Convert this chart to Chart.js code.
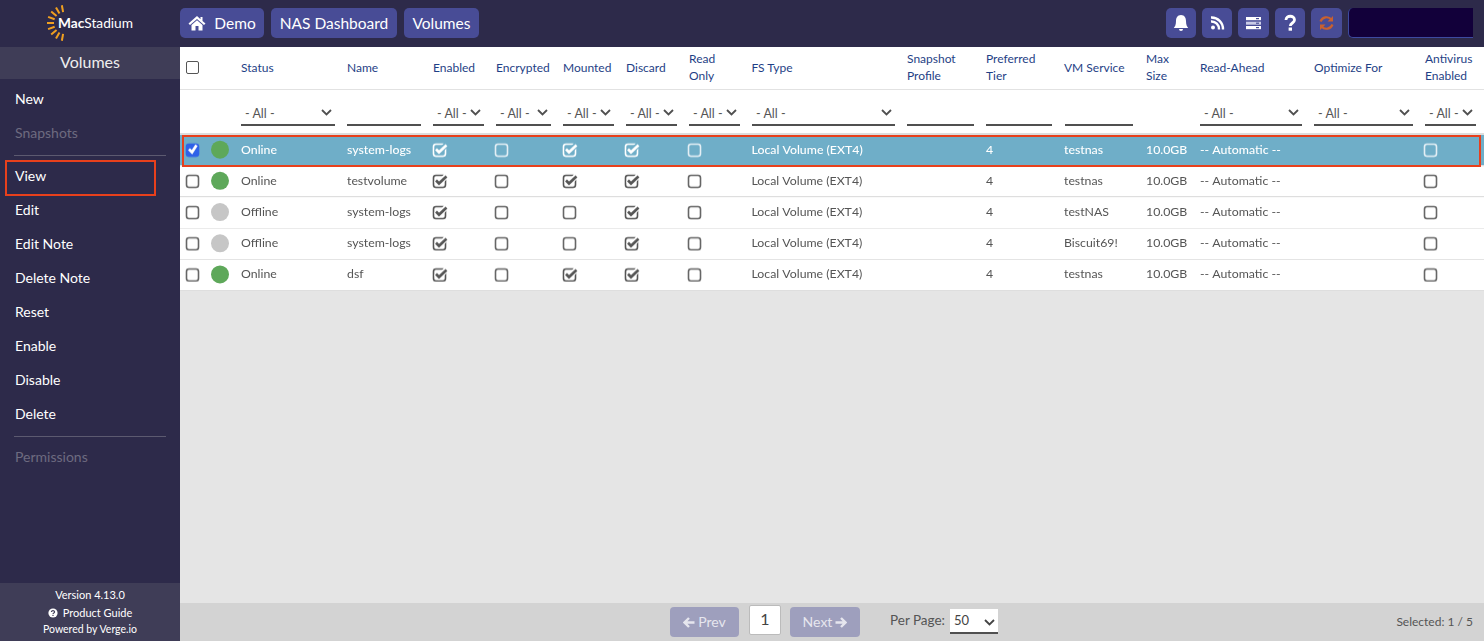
<!DOCTYPE html>
<html>
<head>
<meta charset="utf-8">
<title>Volumes</title>
<script src="https://cdn.jsdelivr.net/npm/chart.js@4"></script>
<style>
html, body { margin: 0; padding: 0; width: 1484px; height: 641px; overflow: hidden; background: #e5e5e5; font-family: 'Lato', sans-serif; color: #555; }
.abs, .side, .btn, .ibtn, .head, .filter { position: absolute; white-space: nowrap; }
#topbar { left: 0; top: 0; width: 1484px; height: 47px; background: #2d2a4a; }
#sidebar { left: 0; top: 47px; width: 180px; height: 594px; background: #2d2a4a; }
#sidetitle { left: 0; top: 47px; width: 180px; height: 32px; line-height: 30px; background: #3f3d57; color: #eee; text-align: center; font-size: 16px; }
#sidefoot { left: 0; top: 583px; width: 180px; height: 58px; background: #3f3d57; }
.side { left: 15px; color: #fff; font-size: 14px; line-height: 18px; }
.side.off { color: #6d6b80; }
.rule { left: 14px; width: 152px; height: 1px; background: #5c5a70; }
.foot { left: 0; width: 180px; text-align: center; color: #fff; }
#viewbox { left: 5px; top: 160px; width: 147px; height: 32px; border: 2px solid #e8401c; }
.btn { top: 8px; height: 30px; line-height: 30px; background: #484c96; border-radius: 5px; color: #fff; font-size: 15.5px; text-align: center; }
.ibtn { top: 8px; height: 30px; background: #484c96; border-radius: 5px; }
.ibtn svg { position: absolute; left: 0; top: 0; }
#panel { left: 180px; top: 47px; width: 1304px; height: 88px; background: #fff; }
#headline { left: 180px; top: 89px; width: 1304px; height: 1px; background: #e2e2e2; }
#filterline { left: 180px; top: 133px; width: 1304px; height: 2px; background: #ddd; }
.head { top: 46px; height: 42px; display: flex; align-items: center; color: #1f3f86; font-size: 12px; line-height: 17px; white-space: pre; }
.filter { top: 102px; height: 22px; line-height: 24px; border-bottom: 2px solid #505050; font-size: 12.5px; color: #555; padding-left: 4px; box-sizing: content-box; }
.filter svg { position: absolute; right: 3px; top: 7px; }
#allbox { left: 186px; top: 61px; width: 11px; height: 11px; border: 1.3px solid #555; border-radius: 2px; background: #fff; }
#tablewrap { left: 180px; top: 135px; width: 1304px; height: 156px; }
#selbox { left: 182px; top: 135px; width: 1295px; height: 28px; border: 2px solid #e8401c; }
#pager { left: 180px; top: 603px; width: 1304px; height: 38px; background: #d3d3d3; }
.pbtn { top: 607px; height: 30px; line-height: 30px; background: #9e9fbd; border-radius: 4px; color: #e6e6ee; font-size: 14px; text-align: center; }
.pbtn svg { vertical-align: -1px; }
#pagenum { left: 749px; top: 605px; width: 30px; height: 28px; line-height: 26px; background: #fff; border: 1px solid #bbb; border-radius: 2px; text-align: center; color: #444; font-size: 16px; }
#perlabel { left: 890px; top: 612px; font-size: 13.5px; color: #555; }
#persel { left: 950px; top: 609px; width: 44px; height: 23px; line-height: 23px; padding-left: 4px; background: #fff; border-bottom: 2px solid #505050; font-size: 13px; color: #444; }
#selcount { right: 11px; top: 614px; font-size: 12px; color: #555; }
#darkbox { left: 1348px; top: 8px; width: 125px; height: 30px; background: #12003a; border-radius: 5px 0 0 5px; border-left: 1px solid #3d4aa0; border-bottom: 1px solid #3d4aa0; box-sizing: border-box; }
#logotext { left: 58px; top: 13px; color: #fff; font-size: 13.7px; line-height: 20px; }
</style>
</head>
<body>
<div class="abs" id="topbar"></div>
<div class="abs" id="sidebar"></div>
<div class="abs" id="sidetitle">Volumes</div>
<div class="abs" id="sidefoot"></div>
<svg class="abs" style="left:44px;top:2px" width="30" height="42" id="logorays"></svg>
<div class="abs" id="logotext"><b>Mac</b>Stadium</div>

<div class="btn" style="left:180px;width:84px"><svg width="18" height="16" viewBox="0 0 18 16" style="vertical-align:-2px;margin-right:8px"><path d="M9 1 L0.5 8.5 L2 10 L9 4 L16 10 L17.5 8.5 L14.5 6 V2 H12.5 V4.2 Z M3.5 10 V15.5 H7.5 V11 H10.5 V15.5 H14.5 V10 L9 5.3 Z" fill="#fff"/></svg>Demo</div>
<div class="btn" style="left:271px;width:126px">NAS Dashboard</div>
<div class="btn" style="left:404px;width:75px">Volumes</div>

<div class="ibtn" style="left:1166px;width:30px"><svg width="30" height="30"><path d="M15 7 C11.5 7 10 10 10 13 C10 17 9 18.5 7.8 20 H22.2 C21 18.5 20 17 20 13 C20 10 18.5 7 15 7 Z M13 21 A2 2 0 0 0 17 21 Z" fill="#fff"/></svg></div>
<div class="ibtn" style="left:1202px;width:30px"><svg width="30" height="30"><circle cx="11" cy="19.5" r="2" fill="#fff"/><path d="M9 13.5 A7.5 7.5 0 0 1 17 21.5 M9 9.5 A11.5 11.5 0 0 1 21 21.5" stroke="#fff" stroke-width="2.4" fill="none"/></svg></div>
<div class="ibtn" style="left:1238px;width:31px"><svg width="31" height="30"><rect x="8" y="9" width="15" height="3.2" fill="#fff"/><rect x="8" y="13.7" width="15" height="3" fill="#c9cbe6"/><rect x="8" y="18" width="15" height="3.2" fill="#fff"/><rect x="18" y="10" width="3" height="1.2" fill="#484c96"/><rect x="18" y="14.6" width="3" height="1.2" fill="#484c96"/><rect x="18" y="19" width="3" height="1.2" fill="#484c96"/></svg></div>
<div class="ibtn" style="left:1275px;width:30px"><svg width="30" height="30"><path d="M11 12 C11 7 19.5 7 19.5 12 C19.5 15 15.3 15 15.3 18" stroke="#fff" stroke-width="2.8" fill="none"/><rect x="13.6" y="19.5" width="3.4" height="3.2" fill="#fff"/></svg></div>
<div class="ibtn" style="left:1311px;width:31px"><svg width="31" height="30"><path d="M9.5 13.5 A6.5 6.5 0 0 1 20.5 11.5 M21.5 16.5 A6.5 6.5 0 0 1 10.5 18.5" stroke="#c8602f" stroke-width="2.2" fill="none"/><path d="M22 8 V13.5 H16.5 Z M9 22 V16.5 H14.5 Z" fill="#c8602f"/></svg></div>
<div class="abs" id="darkbox"></div>

<div id="sidelist"></div>
<div class="abs rule" style="top:155px"></div>
<div class="abs rule" style="top:436px"></div>
<div class="abs" id="viewbox"></div>
<div class="abs foot" style="top:588px;font-size:11px;line-height:14px">Version 4.13.0</div>
<div class="abs foot" style="top:606px;font-size:11px;line-height:14px"><svg width="10" height="10" viewBox="0 0 10 10" style="vertical-align:-1px;margin-right:5px"><circle cx="5" cy="5" r="4.6" fill="#fff"/><path d="M3.4 4 C3.4 2.2 6.6 2.2 6.6 4 C6.6 5 5 5 5 6" stroke="#3f3d57" stroke-width="1.1" fill="none"/><rect x="4.4" y="6.8" width="1.2" height="1.2" fill="#3f3d57"/></svg>Product Guide</div>
<div class="abs foot" style="top:622px;font-size:10.5px;line-height:14px">Powered by Verge.io</div>

<div class="abs" id="panel"></div>
<div class="abs" id="headline"></div>
<div class="abs" id="filterline"></div>
<div class="abs" id="allbox"></div>
<div id="heads"></div>

<div class="abs" id="tablewrap"><canvas id="table" width="1304" height="156"></canvas></div>
<div class="abs" id="selbox"></div>

<div class="abs" id="pager"></div>
<div class="abs pbtn" style="left:670px;width:69px"><svg width="12" height="11" viewBox="0 0 12 11" style="margin-right:3px"><path d="M6 1 L1.5 5.5 L6 10 M2 5.5 H11.5" stroke="#e6e6ee" stroke-width="2.4" fill="none"/></svg>Prev</div>
<div class="abs" id="pagenum">1</div>
<div class="abs pbtn" style="left:790px;width:70px">Next<svg width="12" height="11" viewBox="0 0 12 11" style="margin-left:3px"><path d="M6 1 L10.5 5.5 L6 10 M10 5.5 H0.5" stroke="#e6e6ee" stroke-width="2.4" fill="none"/></svg></div>
<div class="abs" id="perlabel">Per Page:</div>
<div class="abs" id="persel">50<svg width="11" height="7" style="position:absolute;right:3px;top:10px"><path d="M1 1 L5.5 5.5 L10 1" stroke="#444" stroke-width="1.8" fill="none"/></svg></div>
<div class="abs" id="selcount">Selected: 1 / 5</div>

<script>
// table contents
const columns = ['Select', 'Light', 'Status', 'Name', 'Enabled', 'Encrypted', 'Mounted', 'Discard', 'Read\nOnly', 'FS Type', 'Snapshot\nProfile', 'Preferred\nTier', 'VM Service', 'Max\nSize', 'Read-Ahead', 'Optimize For', 'Antivirus\nEnabled'];
const sideItems = ['New', 'Snapshots', 'View', 'Edit', 'Edit Note', 'Delete Note', 'Reset', 'Enable', 'Disable', 'Delete', 'Permissions'];
const sideDisabled = ['Snapshots', 'Permissions'];

const selected = [1, 0, 0, 0, 0];
const status = ['Online', 'Online', 'Offline', 'Offline', 'Online'];
const names = ['system-logs', 'testvolume', 'system-logs', 'system-logs', 'dsf'];
const enabled = [1, 1, 1, 1, 1];
const encrypted = [0, 0, 0, 0, 0];
const mounted = [1, 1, 0, 0, 1];
const discard = [1, 1, 1, 1, 1];
const readOnly = [0, 0, 0, 0, 0];
const fsType = ['Local Volume (EXT4)', 'Local Volume (EXT4)', 'Local Volume (EXT4)', 'Local Volume (EXT4)', 'Local Volume (EXT4)'];
const tier = ['4', '4', '4', '4', '4'];
const vmService = ['testnas', 'testnas', 'testNAS', 'Biscuit69!', 'testnas'];
const maxSize = ['10.0GB', '10.0GB', '10.0GB', '10.0GB', '10.0GB'];
const readAhead = ['-- Automatic --', '-- Automatic --', '-- Automatic --', '-- Automatic --', '-- Automatic --'];
const antivirus = [0, 0, 0, 0, 0];

// layout only: where each column sits on the page, and the filter under it
const columnPos = [193, 220, 241, 347, 440, 502, 570, 632, 695, 751.5, 907, 986, 1064, 1146, 1200, 1314, 1431];
const headLeft = [0, 0, 241, 347, 433, 496, 563, 626, 689, 751.5, 907, 986, 1064, 1146, 1200, 1314, 1425];
const filters = [[241, 94, 1], [347, 74, 0], [433, 51, 1], [496, 55, 1], [563, 51, 1], [626, 51, 1], [689, 51, 1], [752, 143, 1], [907, 67, 0], [986, 66, 0], [1065, 68, 0], [1200, 102, 1], [1314, 99, 1], [1425, 51, 1]];
const sideTops = [90, 124, 167, 201, 235, 269, 303, 337, 371, 405, 448];

const canvasLeft = 180;
// marks sit a pixel above the middle of their row
const rowShift = 0.03;

sideItems.forEach((label, i) => {
    const el = document.createElement('div');
    el.className = 'side' + (sideDisabled.includes(label) ? ' off' : '');
    el.style.top = sideTops[i] + 'px';
    el.textContent = label;
    document.getElementById('sidelist').appendChild(el);
});

columns.forEach((label, i) => {
    if (i < 2) return;
    const el = document.createElement('div');
    el.className = 'head';
    el.style.left = headLeft[i] + 'px';
    el.textContent = label;
    document.getElementById('heads').appendChild(el);
});

filters.forEach(([left, width, hasSelect]) => {
    const el = document.createElement('div');
    el.className = 'filter';
    el.style.left = left + 'px';
    el.style.width = (width - 4) + 'px';
    if (hasSelect) {
        el.innerHTML = '- All -<svg width="11" height="7"><path d="M1 1 L5.5 5.5 L10 1" stroke="#505050" stroke-width="1.8" fill="none"/></svg>';
    }
    document.getElementById('heads').appendChild(el);
});

// sun rays of the logo
const rays = document.getElementById('logorays');
for (let a = 190; a <= 350; a += 20) {
    const r = a * Math.PI / 180;
    const line = document.createElementNS('http://www.w3.org/2000/svg', 'line');
    line.setAttribute('x1', 21 + Math.sin(r) * 11);
    line.setAttribute('y1', 21 - Math.cos(r) * 11);
    line.setAttribute('x2', 21 + Math.sin(r) * 18);
    line.setAttribute('y2', 21 - Math.cos(r) * 18);
    line.setAttribute('stroke', '#f0a020');
    line.setAttribute('stroke-width', '2');
    rays.appendChild(line);
}

// category axis whose columns are not evenly spaced
class TableColumnScale extends Chart.CategoryScale {
    getPixelForValue(value) {
        const idx = typeof value === 'number' ? value : this.getLabels().indexOf(value);
        return columnPos[idx] - canvasLeft;
    }
}
TableColumnScale.id = 'tableColumn';
TableColumnScale.defaults = Chart.CategoryScale.defaults;
Chart.register(TableColumnScale);

function boxSprite(color, checked, filled) {
    const c = document.createElement('canvas');
    c.width = 18;
    c.height = 16;
    const g = c.getContext('2d');
    g.lineWidth = 1.6;
    g.strokeStyle = color;
    g.beginPath();
    g.roundRect(2.5, 2.5, 12, 12, 2.5);
    if (filled) {
        g.fillStyle = color;
        g.fill();
    }
    g.stroke();
    if (checked) {
        if (!filled) {
            g.globalCompositeOperation = 'destination-out';
            g.lineWidth = 5.5;
            g.beginPath();
            g.moveTo(5, 7);
            g.lineTo(8, 10);
            g.lineTo(15.5, 3);
            g.stroke();
            g.globalCompositeOperation = 'source-over';
        }
        g.strokeStyle = filled ? '#fff' : color;
        g.lineWidth = 2.7;
        g.beginPath();
        g.moveTo(5, 7.5);
        g.lineTo(8, 10.5);
        g.lineTo(filled ? 12.5 : 15.5, 3.5);
        g.stroke();
    }
    return c;
}

const sprites = {
    off: boxSprite('#666', false),
    on: boxSprite('#555', true),
    offLight: boxSprite('#e4eff5', false),
    onLight: boxSprite('#fff', true, false),
    picked: boxSprite('#2f62e8', true, true)
};

function boxDataset(label, values) {
    return {
        label: label,
        data: values.map((v, row) => ({ x: label, y: row })),
        pointStyle: values.map((v, row) => {
            if (row === 0) return sprites[v ? 'onLight' : 'offLight'];
            return sprites[v ? 'on' : 'off'];
        }),
        showLine: false
    };
}

const selectDataset = boxDataset('Select', selected);
selectDataset.pointStyle = selected.map(v => v ? sprites.picked : sprites.off);

const textColumns = [
    ['Status', status], ['Name', names], ['FS Type', fsType], ['Preferred\nTier', tier],
    ['VM Service', vmService], ['Max\nSize', maxSize], ['Read-Ahead', readAhead]
];

const tableRows = {
    id: 'tableRows',
    beforeDatasetsDraw(chart) {
        const ctx = chart.ctx, y = chart.scales.y, area = chart.chartArea;
        selected.forEach((v, row) => {
            const top = y.getPixelForValue(row - 0.5 + rowShift), bottom = y.getPixelForValue(row + 0.5 + rowShift);
            ctx.fillStyle = v ? '#6faec8' : '#fff';
            ctx.fillRect(area.left, top, area.right - area.left, bottom - top);
            ctx.fillStyle = '#dedede';
            ctx.fillRect(area.left, Math.round(bottom) - 1, area.right - area.left, 1);
        });
    },
    afterDatasetsDraw(chart) {
        const ctx = chart.ctx, x = chart.scales.x, y = chart.scales.y;
        ctx.save();
        ctx.textBaseline = 'middle';
        ctx.textAlign = 'left';
        textColumns.forEach(([col, values]) => {
            values.forEach((text, row) => {
                ctx.fillStyle = selected[row] ? '#fff' : '#555';
                ctx.font = (selected[row] ? '500 ' : '') + "12.3px 'Lato', sans-serif";
                ctx.fillText(text, x.getPixelForValue(col), y.getPixelForValue(row));
            });
        });
        ctx.restore();
    }
};

new Chart(document.getElementById('table'), {
    type: 'scatter',
    data: {
        labels: columns,
        datasets: [
            {
                label: 'Light',
                data: status.map((s, row) => ({ x: 'Light', y: row })),
                pointStyle: 'circle',
                pointRadius: 9,
                borderWidth: 0,
                backgroundColor: status.map(s => s === 'Online' ? '#5ea85a' : '#c6c6c6'),
                borderColor: 'transparent'
            },
            selectDataset,
            boxDataset('Enabled', enabled),
            boxDataset('Encrypted', encrypted),
            boxDataset('Mounted', mounted),
            boxDataset('Discard', discard),
            boxDataset('Read\nOnly', readOnly),
            boxDataset('Antivirus\nEnabled', antivirus)
        ]
    },
    options: {
        responsive: false,
        animation: false,
        events: [],
        layout: { padding: 0, autoPadding: false },
        scales: {
            x: { type: 'tableColumn', display: false, labels: columns },
            y: { type: 'linear', display: false, reverse: true, min: -0.5 + rowShift, max: 4.5 + rowShift }
        },
        plugins: { legend: { display: false }, tooltip: { enabled: false } }
    },
    plugins: [tableRows]
});
</script>
</body>
</html>
